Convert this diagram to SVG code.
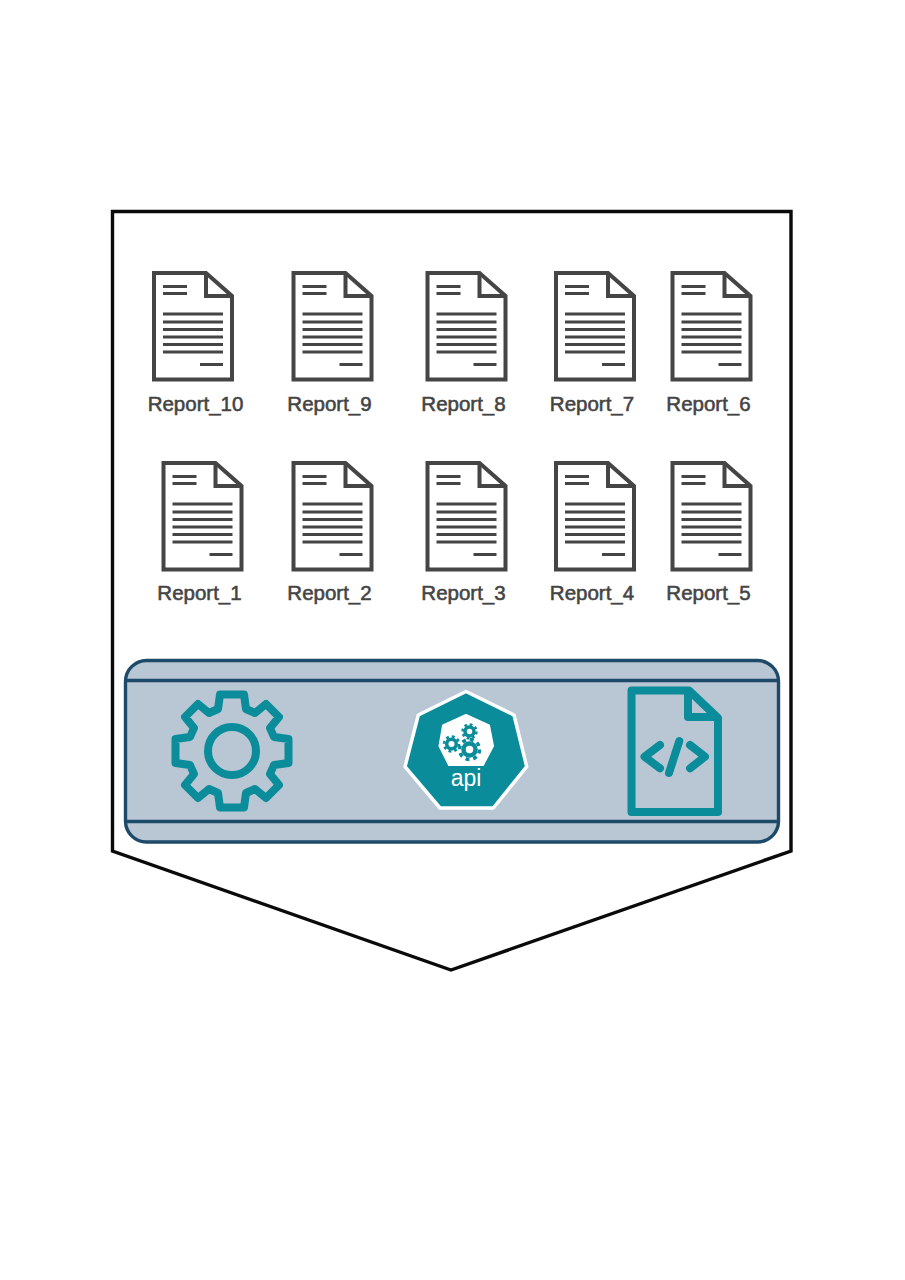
<svg xmlns="http://www.w3.org/2000/svg" width="905" height="1280" viewBox="0 0 905 1280">
<style>
.doc{fill:#fff;stroke:#454545;stroke-width:4;stroke-linejoin:miter}
.fold{fill:none;stroke:#454545;stroke-width:4}
.ln{stroke:#454545;stroke-width:3.200;fill:none}
.lbl{font-family:"Liberation Sans",Arial,sans-serif;font-size:20.500px;fill:#444;stroke:#444;stroke-width:.55;text-anchor:middle}
.teal{fill:none;stroke:#0a8c9a;stroke-width:8;stroke-linejoin:round;stroke-linecap:round}
.band{stroke:#1e4a69;stroke-width:3.400;fill:none}
</style>
<defs>
<g id="doc">
<path class="doc" d="M0 0H52L78 23V106.500H0Z"/>
<path class="fold" d="M52 0V23H78"/>
<path class="ln" d="M9 13.500H33M9 20.500H33M9 41H69M9 49H69M9 56.500H69M9 64H69M9 71.500H69M9 79H69M46 91.500H69"/>
</g>
</defs>
<rect width="905" height="1280" fill="#fff"/>
<g id="container">
<path d="M112.500 211.500H791V851L451 970L112.500 851Z" fill="#fff" stroke="#0a0a0a" stroke-width="3.400"/>
</g>
<g id="report-10"><use href="#doc" x="154" y="273"/><text class="lbl" x="195.500" y="411">Report_10</text></g>
<g id="report-9"><use href="#doc" x="293.500" y="273"/><text class="lbl" x="329.500" y="411">Report_9</text></g>
<g id="report-8"><use href="#doc" x="427.500" y="273"/><text class="lbl" x="463.500" y="411">Report_8</text></g>
<g id="report-7"><use href="#doc" x="556" y="273"/><text class="lbl" x="592" y="411">Report_7</text></g>
<g id="report-6"><use href="#doc" x="672.500" y="273"/><text class="lbl" x="708.500" y="411">Report_6</text></g>
<g id="report-1"><use href="#doc" x="163.500" y="463"/><text class="lbl" x="199.500" y="600">Report_1</text></g>
<g id="report-2"><use href="#doc" x="293.500" y="463"/><text class="lbl" x="329.500" y="600">Report_2</text></g>
<g id="report-3"><use href="#doc" x="427.500" y="463"/><text class="lbl" x="463.500" y="600">Report_3</text></g>
<g id="report-4"><use href="#doc" x="556" y="463"/><text class="lbl" x="592" y="600">Report_4</text></g>
<g id="report-5"><use href="#doc" x="672.500" y="463"/><text class="lbl" x="708.500" y="600">Report_5</text></g>
<g id="band">
<rect x="125.500" y="660.500" width="653" height="181.500" rx="21" class="band" style="fill:#b9c7d4"/>
<path class="band" d="M125.500 680.500H778.500M125.500 821.500H778.500"/>
</g>
<g id="gear" transform="translate(232 751)">
<path class="teal" d="M-14 -42L-12 -56.500L12 -56.500L14 -42L23 -38L34 -47L47 -34L38 -23L42 -14L56.500 -12L56.500 12L42 14L38 23L47 34L34 47L23 38L14 42L12 56.500L-12 56.500L-14 42L-23 38L-34 47L-47 34L-38 23L-42 14L-56.500 12L-56.500 -12L-42 -14L-38 -23L-47 -34L-34 -47L-23 -38Z"/>
<circle class="teal" r="24"/>
</g>
<g id="api">
<path d="M466 691.500L514 715L526.700 766.700L493.300 808H440L405 766.700L418.300 715Z" fill="#0a8c9a" stroke="#fff" stroke-width="3.500" stroke-linejoin="round"/>
<path d="M466 715L489 725.500L493 746L483 765H449L439.500 746L443 725.500Z" fill="#fff" stroke="#fff" stroke-width="2" stroke-linejoin="round"/>
<g fill="#fff" stroke="#0a8c9a">
<circle cx="469.500" cy="731.500" r="4.500" stroke-width="3.500"/>
<circle cx="469.500" cy="731.500" r="7" fill="none" stroke-width="2.500" stroke-dasharray="2.750 2.750"/>
<circle cx="451.500" cy="744" r="4.800" stroke-width="3.500"/>
<circle cx="451.500" cy="744" r="7.500" fill="none" stroke-width="2.500" stroke-dasharray="2.950 2.950"/>
<circle cx="469.500" cy="749.500" r="6" stroke-width="4.500"/>
<circle cx="469.500" cy="749.500" r="10" fill="none" stroke-width="3.500" stroke-dasharray="3.920 3.930"/>
</g>
<text x="466" y="786" font-family="'Liberation Sans',Arial,sans-serif" font-size="23" fill="#fff" text-anchor="middle">api</text>
</g>
<g id="code-file">
<path class="teal" d="M631.500 690.500H689L718 718V812H631.500Z"/>
<path class="teal" d="M688 692V717H716"/>
<path class="teal" d="M660 745L644.500 756.700L660 768.300M690 745L705 756.700L690 768.300M679.300 741L669 773"/>
</g>
</svg>
